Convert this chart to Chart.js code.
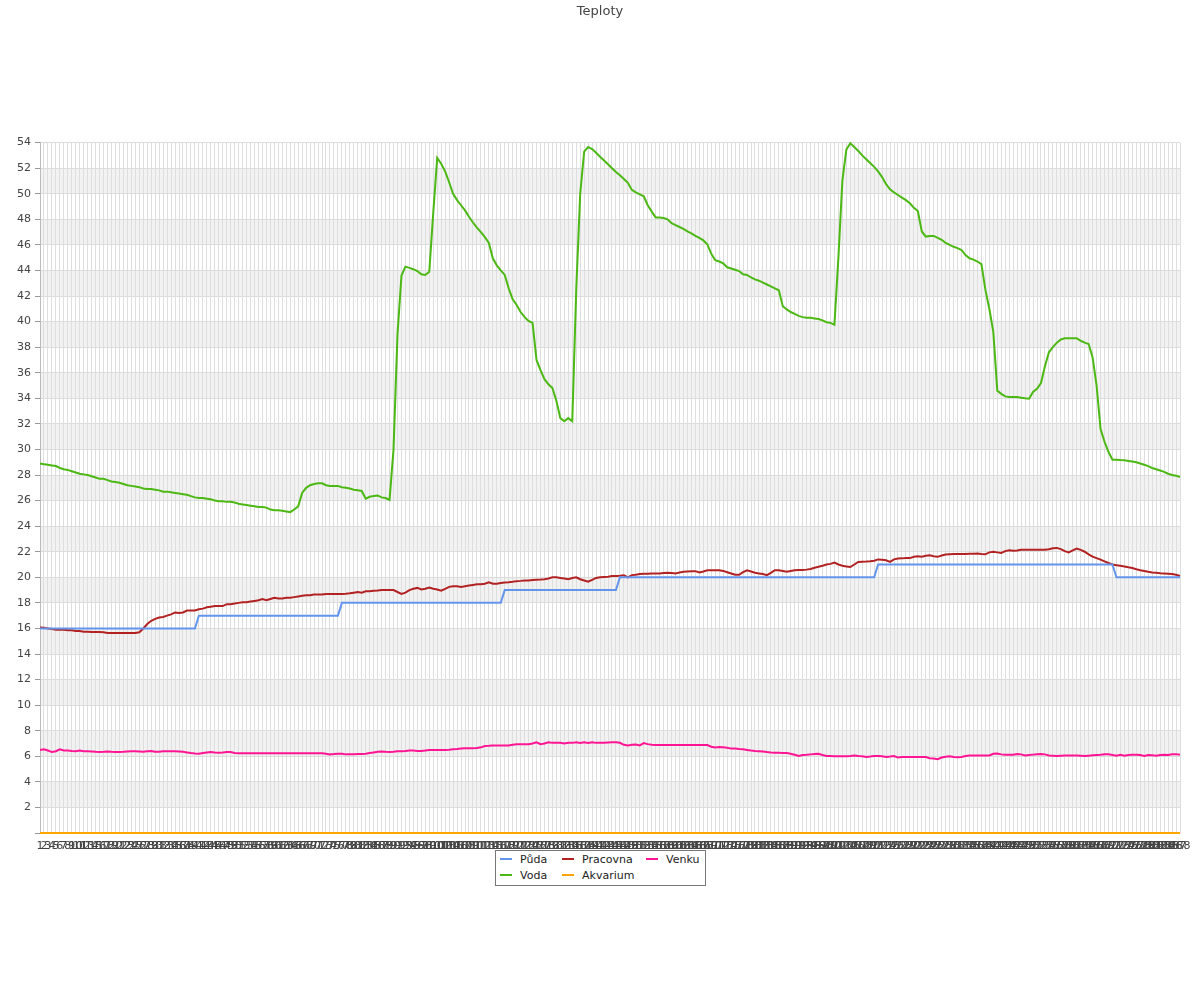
<!DOCTYPE html>
<html>
<head>
<meta charset="utf-8">
<title>Teploty</title>
<script src="https://cdn.jsdelivr.net/npm/chart.js@4.4.1/dist/chart.umd.min.js"></script>
<style>
  body { margin: 0; background: #fff; }
  #wrap { position: relative; width: 1200px; height: 1000px; }
  #legend {
    position: absolute; left: 495px; top: 850px;
    border: 1px solid #777; background: #fff;
    display: grid; grid-template-rows: 16px 16px; grid-auto-flow: column;
    grid-template-columns: 62px 84px auto;
    padding: 1px 6px 1px 4px;
    font: 11px "DejaVu Sans", sans-serif; color: #222; line-height: 16px;
  }
  #legend .mark {
    display: inline-block; width: 12px; height: 2px;
    vertical-align: middle; margin-right: 8px; position: relative; top: -1px;
  }
</style>
</head>
<body>
<div id="wrap">
  <canvas id="chart" width="1200" height="1000"></canvas>
  <div id="legend"></div>
</div>
<script>
// 288 readings, one every 5 minutes
const labels = Array.from({ length: 288 }, (_, i) => String(i + 1));

const puda = [
  16, 16, 16, 16, 16, 16, 16, 16, 16, 16, 16, 16,
  16, 16, 16, 16, 16, 16, 16, 16, 16, 16, 16, 16,
  16, 16, 16, 16, 16, 16, 16, 16, 16, 16, 16, 16,
  16, 16, 16, 16, 17, 17, 17, 17, 17, 17, 17, 17,
  17, 17, 17, 17, 17, 17, 17, 17, 17, 17, 17, 17,
  17, 17, 17, 17, 17, 17, 17, 17, 17, 17, 17, 17,
  17, 17, 17, 17, 18, 18, 18, 18, 18, 18, 18, 18,
  18, 18, 18, 18, 18, 18, 18, 18, 18, 18, 18, 18,
  18, 18, 18, 18, 18, 18, 18, 18, 18, 18, 18, 18,
  18, 18, 18, 18, 18, 18, 18, 18, 18, 19, 19, 19,
  19, 19, 19, 19, 19, 19, 19, 19, 19, 19, 19, 19,
  19, 19, 19, 19, 19, 19, 19, 19, 19, 19, 19, 19,
  19, 19, 20, 20, 20, 20, 20, 20, 20, 20, 20, 20,
  20, 20, 20, 20, 20, 20, 20, 20, 20, 20, 20, 20,
  20, 20, 20, 20, 20, 20, 20, 20, 20, 20, 20, 20,
  20, 20, 20, 20, 20, 20, 20, 20, 20, 20, 20, 20,
  20, 20, 20, 20, 20, 20, 20, 20, 20, 20, 20, 20,
  20, 20, 20, 20, 20, 20, 20, 21, 21, 21, 21, 21,
  21, 21, 21, 21, 21, 21, 21, 21, 21, 21, 21, 21,
  21, 21, 21, 21, 21, 21, 21, 21, 21, 21, 21, 21,
  21, 21, 21, 21, 21, 21, 21, 21, 21, 21, 21, 21,
  21, 21, 21, 21, 21, 21, 21, 21, 21, 21, 21, 21,
  21, 21, 21, 21, 21, 21, 21, 20, 20, 20, 20, 20,
  20, 20, 20, 20, 20, 20, 20, 20, 20, 20, 20, 20
];

const voda = [
  28.9, 28.85, 28.8, 28.75, 28.7, 28.55, 28.45, 28.4, 28.3, 28.2, 28.1, 28.05,
  28.0, 27.9, 27.8, 27.7, 27.7, 27.6, 27.5, 27.45, 27.4, 27.3, 27.2, 27.15,
  27.1, 27.05, 26.95, 26.9, 26.9, 26.85, 26.8, 26.7, 26.7, 26.65, 26.6, 26.55,
  26.5, 26.45, 26.35, 26.25, 26.2, 26.2, 26.15, 26.1, 26.0, 25.95, 25.95, 25.9,
  25.9, 25.85, 25.75, 25.7, 25.65, 25.6, 25.55, 25.5, 25.5, 25.45, 25.3, 25.25,
  25.25, 25.2, 25.15, 25.1, 25.3, 25.55, 26.6, 27.0, 27.2, 27.3, 27.35, 27.35,
  27.2, 27.15, 27.15, 27.15, 27.05, 27.0, 26.95, 26.85, 26.8, 26.75, 26.15, 26.3,
  26.35, 26.4, 26.25, 26.2, 26.05, 30.0, 39.0, 43.6, 44.3, 44.2, 44.1, 43.95,
  43.7, 43.65, 43.9, 48.5, 52.8, 52.35, 51.75, 50.9, 50.0, 49.5, 49.1, 48.7,
  48.2, 47.75, 47.35, 47.0, 46.6, 46.15, 44.95, 44.4, 44.0, 43.65, 42.6, 41.75,
  41.3, 40.75, 40.35, 40.05, 39.9, 37.0, 36.2, 35.5, 35.1, 34.8, 33.8, 32.45,
  32.2, 32.45, 32.2, 42.5, 50.0, 53.3, 53.65, 53.5, 53.2, 52.9, 52.6, 52.3,
  52.0, 51.7, 51.45, 51.15, 50.85, 50.3, 50.1, 49.95, 49.8, 49.1, 48.6, 48.15,
  48.15, 48.1, 48.0, 47.7, 47.55, 47.4, 47.25, 47.05, 46.9, 46.7, 46.55, 46.35,
  46.05, 45.3, 44.8, 44.7, 44.55, 44.25, 44.15, 44.05, 43.95, 43.7, 43.65, 43.45,
  43.3, 43.2, 43.05, 42.9, 42.75, 42.6, 42.45, 41.2, 40.95, 40.75, 40.6, 40.45,
  40.35, 40.3, 40.3, 40.25, 40.2, 40.1, 39.95, 39.9, 39.75, 45.0, 51.0, 53.45,
  53.95, 53.65, 53.35, 53.0, 52.7, 52.4, 52.1, 51.75, 51.3, 50.75, 50.35, 50.1,
  49.9, 49.7, 49.5, 49.25, 48.9, 48.65, 47.05, 46.65, 46.7, 46.7, 46.55, 46.4,
  46.15, 46.0, 45.85, 45.75, 45.6, 45.2, 44.95, 44.85, 44.7, 44.5, 42.5, 41.0,
  39.2, 34.6, 34.35, 34.15, 34.1, 34.1, 34.1, 34.05, 34.0, 33.97, 34.5, 34.75,
  35.2, 36.5, 37.6, 38.0, 38.35, 38.6, 38.7, 38.7, 38.7, 38.7, 38.5, 38.35,
  38.25, 37.2, 35.0, 31.6, 30.6, 29.8, 29.2, 29.2, 29.17, 29.15, 29.1, 29.05,
  29.0, 28.9, 28.8, 28.7, 28.55, 28.45, 28.35, 28.25, 28.1, 28.0, 27.95, 27.85
];

const pracovna = [
  16.07, 16.05, 16.0, 15.95, 15.9, 15.9, 15.9, 15.85, 15.85, 15.8, 15.8, 15.75,
  15.75, 15.72, 15.72, 15.72, 15.7, 15.65, 15.65, 15.65, 15.65, 15.65, 15.65, 15.65,
  15.65, 15.7, 16.0, 16.35, 16.6, 16.75, 16.85, 16.9, 17.0, 17.1, 17.25, 17.2,
  17.25, 17.4, 17.4, 17.4, 17.5, 17.55, 17.65, 17.7, 17.75, 17.75, 17.75, 17.9,
  17.9, 17.95, 18.0, 18.05, 18.05, 18.1, 18.15, 18.2, 18.3, 18.2, 18.3, 18.4,
  18.35, 18.35, 18.4, 18.4, 18.45, 18.5, 18.55, 18.6, 18.6, 18.65, 18.65, 18.65,
  18.7, 18.7, 18.7, 18.7, 18.7, 18.72, 18.75, 18.8, 18.85, 18.8, 18.9, 18.9,
  18.95, 18.97, 19.0, 19.0, 19.0, 19.0, 18.85, 18.7, 18.8, 19.0, 19.1, 19.17,
  19.05, 19.1, 19.2, 19.1, 19.05, 18.95, 19.1, 19.25, 19.3, 19.3, 19.25, 19.3,
  19.35, 19.4, 19.45, 19.45, 19.5, 19.6, 19.5, 19.5, 19.55, 19.6, 19.62, 19.65,
  19.7, 19.72, 19.75, 19.75, 19.78, 19.8, 19.82, 19.85, 19.9, 20.0, 20.0, 19.95,
  19.9, 19.85, 19.95, 20.0, 19.85, 19.75, 19.65, 19.8, 19.95, 20.0, 20.03, 20.05,
  20.1, 20.1, 20.12, 20.15, 20.0, 20.17, 20.2, 20.25, 20.27, 20.28, 20.3, 20.3,
  20.3, 20.33, 20.35, 20.33, 20.3, 20.38, 20.43, 20.45, 20.47, 20.48, 20.37, 20.45,
  20.55, 20.55, 20.55, 20.55, 20.5, 20.4, 20.3, 20.2, 20.2, 20.4, 20.55, 20.45,
  20.35, 20.3, 20.25, 20.17, 20.35, 20.55, 20.55, 20.5, 20.43, 20.5, 20.55, 20.57,
  20.58, 20.6, 20.65, 20.75, 20.82, 20.9, 21.0, 21.05, 21.15, 21.0, 20.9, 20.85,
  20.8, 21.0, 21.2, 21.22, 21.23, 21.25, 21.3, 21.4, 21.37, 21.33, 21.2, 21.4,
  21.47, 21.48, 21.5, 21.5, 21.6, 21.65, 21.6, 21.68, 21.72, 21.65, 21.6, 21.7,
  21.78, 21.8, 21.82, 21.83, 21.83, 21.83, 21.84, 21.85, 21.86, 21.82, 21.8, 21.95,
  22.0, 21.95, 21.9, 22.05, 22.12, 22.08, 22.1, 22.15, 22.15, 22.15, 22.15, 22.15,
  22.15, 22.15, 22.2, 22.27, 22.3, 22.2, 22.05, 21.95, 22.1, 22.25, 22.15, 22.0,
  21.8, 21.62, 21.5, 21.38, 21.25, 21.12, 21.0, 20.95, 20.9, 20.85, 20.78, 20.72,
  20.63, 20.55, 20.5, 20.43, 20.38, 20.35, 20.32, 20.3, 20.28, 20.25, 20.2, 20.1
];

const akvarium = [
  0, 0, 0, 0, 0, 0, 0, 0, 0, 0, 0, 0,
  0, 0, 0, 0, 0, 0, 0, 0, 0, 0, 0, 0,
  0, 0, 0, 0, 0, 0, 0, 0, 0, 0, 0, 0,
  0, 0, 0, 0, 0, 0, 0, 0, 0, 0, 0, 0,
  0, 0, 0, 0, 0, 0, 0, 0, 0, 0, 0, 0,
  0, 0, 0, 0, 0, 0, 0, 0, 0, 0, 0, 0,
  0, 0, 0, 0, 0, 0, 0, 0, 0, 0, 0, 0,
  0, 0, 0, 0, 0, 0, 0, 0, 0, 0, 0, 0,
  0, 0, 0, 0, 0, 0, 0, 0, 0, 0, 0, 0,
  0, 0, 0, 0, 0, 0, 0, 0, 0, 0, 0, 0,
  0, 0, 0, 0, 0, 0, 0, 0, 0, 0, 0, 0,
  0, 0, 0, 0, 0, 0, 0, 0, 0, 0, 0, 0,
  0, 0, 0, 0, 0, 0, 0, 0, 0, 0, 0, 0,
  0, 0, 0, 0, 0, 0, 0, 0, 0, 0, 0, 0,
  0, 0, 0, 0, 0, 0, 0, 0, 0, 0, 0, 0,
  0, 0, 0, 0, 0, 0, 0, 0, 0, 0, 0, 0,
  0, 0, 0, 0, 0, 0, 0, 0, 0, 0, 0, 0,
  0, 0, 0, 0, 0, 0, 0, 0, 0, 0, 0, 0,
  0, 0, 0, 0, 0, 0, 0, 0, 0, 0, 0, 0,
  0, 0, 0, 0, 0, 0, 0, 0, 0, 0, 0, 0,
  0, 0, 0, 0, 0, 0, 0, 0, 0, 0, 0, 0,
  0, 0, 0, 0, 0, 0, 0, 0, 0, 0, 0, 0,
  0, 0, 0, 0, 0, 0, 0, 0, 0, 0, 0, 0,
  0, 0, 0, 0, 0, 0, 0, 0, 0, 0, 0, 0
];

const venku = [
  6.5, 6.55, 6.45, 6.33, 6.4, 6.55, 6.45, 6.45, 6.42, 6.4, 6.45, 6.4,
  6.4, 6.38, 6.35, 6.33, 6.35, 6.38, 6.35, 6.33, 6.33, 6.35, 6.38, 6.4,
  6.4, 6.38, 6.35, 6.4, 6.42, 6.35, 6.35, 6.4, 6.4, 6.4, 6.4, 6.38,
  6.35, 6.3, 6.25, 6.22, 6.2, 6.25, 6.3, 6.33, 6.3, 6.28, 6.3, 6.33,
  6.33, 6.25, 6.23, 6.23, 6.23, 6.23, 6.23, 6.23, 6.23, 6.23, 6.23, 6.23,
  6.23, 6.23, 6.23, 6.23, 6.23, 6.23, 6.23, 6.23, 6.23, 6.23, 6.23, 6.23,
  6.2, 6.15, 6.17, 6.2, 6.2, 6.15, 6.15, 6.15, 6.17, 6.17, 6.2, 6.25,
  6.3, 6.35, 6.38, 6.35, 6.33, 6.35, 6.4, 6.4, 6.42, 6.45, 6.45, 6.42,
  6.42, 6.45, 6.5, 6.5, 6.5, 6.5, 6.5, 6.52, 6.55, 6.57, 6.6, 6.62,
  6.63, 6.63, 6.65, 6.7, 6.8, 6.82, 6.85, 6.85, 6.85, 6.85, 6.85, 6.9,
  6.95, 6.95, 6.95, 6.95, 7.0, 7.1, 6.95, 7.0, 7.1, 7.05, 7.05, 7.05,
  7.0, 7.05, 7.05, 7.1, 7.05, 7.1, 7.05, 7.1, 7.05, 7.06, 7.06, 7.08,
  7.1, 7.1, 7.06, 6.9, 6.85, 6.9, 6.92, 6.85, 7.03, 6.95, 6.9, 6.88,
  6.88, 6.88, 6.88, 6.88, 6.88, 6.88, 6.88, 6.88, 6.88, 6.88, 6.88, 6.88,
  6.88, 6.75, 6.68, 6.72, 6.7, 6.67, 6.6, 6.6, 6.57, 6.55, 6.5, 6.45,
  6.42, 6.4, 6.38, 6.33, 6.3, 6.28, 6.27, 6.25, 6.25, 6.2, 6.12, 6.02,
  6.1, 6.12, 6.15, 6.18, 6.2, 6.1, 6.02, 6.02, 6.0, 6.0, 6.0, 6.0,
  6.03, 6.07, 6.03, 6.0, 5.95, 5.98, 6.02, 6.02, 6.0, 5.95, 5.98, 6.02,
  5.9, 5.95, 5.95, 5.95, 5.95, 5.95, 5.95, 5.95, 5.85, 5.82, 5.77, 5.9,
  5.97, 6.0, 5.95, 5.93, 5.95, 6.02, 6.07, 6.07, 6.07, 6.07, 6.07, 6.07,
  6.2, 6.22, 6.15, 6.12, 6.12, 6.12, 6.18, 6.15, 6.07, 6.1, 6.13, 6.15,
  6.17, 6.15, 6.07, 6.05, 6.02, 6.05, 6.07, 6.07, 6.07, 6.07, 6.05, 6.02,
  6.05, 6.08, 6.1, 6.12, 6.15, 6.15, 6.1, 6.05, 6.12, 6.05, 6.1, 6.12,
  6.12, 6.1, 6.03, 6.1, 6.08, 6.05, 6.1, 6.12, 6.1, 6.15, 6.15, 6.13
];

// alternating grey bands behind the grid (every other 2-degree band)
const bandPlugin = {
  id: 'bands',
  beforeDraw(chart) {
    const { ctx, chartArea, scales } = chart;
    const y = scales.y;
    ctx.save();
    ctx.fillStyle = '#f2f2f2';
    for (let v = 2; v < 54; v += 4) {
      const top = y.getPixelForValue(v + 2);
      const bottom = y.getPixelForValue(v);
      ctx.fillRect(chartArea.left, top, chartArea.right - chartArea.left, bottom - top);
    }
    ctx.restore();
  }
};

function line(label, data, color) {
  return {
    label: label,
    data: data,
    borderColor: color,
    backgroundColor: color,
    borderWidth: 2,
    pointRadius: 0,
    tension: 0,
    fill: false,
    clip: false
  };
}

const chart = new Chart(document.getElementById('chart'), {
  type: 'line',
  data: {
    labels: labels,
    datasets: [
      line('Půda', puda, '#6495ed'),
      line('Voda', voda, '#4cb814'),
      line('Pracovna', pracovna, '#b22222'),
      line('Akvarium', akvarium, '#ffa500'),
      line('Venku', venku, '#ff1493')
    ]
  },
  options: {
    responsive: false,
    animation: false,
    devicePixelRatio: 1,
    layout: { padding: 0 },
    plugins: {
      legend: { display: false },
      tooltip: { enabled: false },
      title: {
        display: true,
        text: 'Teploty',
        color: '#444',
        font: { family: 'DejaVu Sans', size: 13, weight: 'normal' },
        padding: { top: 4, bottom: 123 }
      }
    },
    scales: {
      x: {
        afterFit: (scale) => { scale.height = 167; },
        grid: { color: '#dedede', drawTicks: false },
        border: { display: false },
        ticks: {
          autoSkip: false,
          maxRotation: 0,
          minRotation: 0,
          padding: 7,
          color: '#444',
          font: { family: 'DejaVu Sans', size: 11 }
        }
      },
      y: {
        min: 0,
        max: 54,
        afterFit: (scale) => { scale.width = 40; },
        grid: {
          color: (c) => (c.tick && c.tick.value % 2 === 0 ? '#dcdcdc' : 'rgba(0,0,0,0)'),
          tickColor: '#999',
          tickLength: 5
        },
        border: { color: '#bbb' },
        ticks: {
          stepSize: 1,
          padding: 4,
          color: '#444',
          font: { family: 'DejaVu Sans', size: 11 },
          callback: (v) => (v > 0 && v % 2 === 0 ? v : '')
        }
      },
      // empty right-hand axis: keeps a 20px margin so the title stays centred
      yRight: {
        position: 'right',
        min: 0,
        max: 54,
        afterFit: (scale) => { scale.width = 20; },
        grid: { display: false },
        border: { display: false },
        ticks: { display: false }
      }
    }
  },
  plugins: [bandPlugin]
});

// legend drawn as HTML, three columns filled top to bottom
const legendBox = document.getElementById('legend');
chart.data.datasets.forEach((ds) => {
  const item = document.createElement('div');
  const mark = document.createElement('span');
  mark.className = 'mark';
  mark.style.background = ds.borderColor;
  item.appendChild(mark);
  item.appendChild(document.createTextNode(ds.label));
  legendBox.appendChild(item);
});
</script>
</body>
</html>
